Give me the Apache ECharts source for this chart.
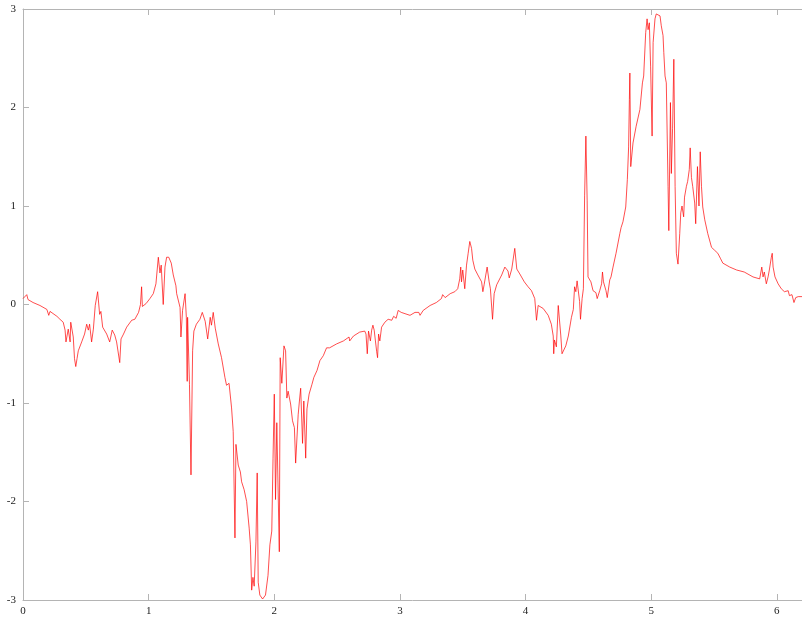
<!DOCTYPE html>
<html>
<head>
<meta charset="utf-8">
<script src="https://cdn.jsdelivr.net/npm/echarts@6/dist/echarts.min.js"></script>
<style>
html,body{margin:0;padding:0;background:#fff;}
#chart{width:802px;height:617px;}
</style>
</head>
<body>
<div id="chart"></div>
<script>
const xs = [0.00,0.03,0.04,0.08,0.135,0.19,0.205,0.215,0.27,0.294,0.32,0.335,0.342,0.36,0.375,0.38,0.40,0.41,0.42,0.43,0.44,0.467,0.49,0.507,0.52,0.53,0.546,0.56,0.575,0.594,0.61,0.62,0.634,0.666,0.69,0.71,0.73,0.745,0.76,0.77,0.78,0.80,0.825,0.865,0.89,0.905,0.92,0.935,0.944,0.95,0.96,0.98,1.01,1.037,1.058,1.077,1.09,1.10,1.116,1.13,1.143,1.16,1.17,1.18,1.196,1.217,1.223,1.25,1.257,1.27,1.29,1.30,1.307,1.31,1.325,1.337,1.35,1.36,1.38,1.408,1.427,1.45,1.47,1.49,1.50,1.514,1.53,1.554,1.58,1.607,1.62,1.633,1.64,1.66,1.673,1.687,1.695,1.713,1.73,1.74,1.76,1.78,1.80,1.81,1.82,1.83,1.84,1.854,1.864,1.872,1.885,1.907,1.93,1.95,1.965,1.98,1.99,2.00,2.01,2.02,2.04,2.047,2.06,2.077,2.09,2.10,2.11,2.13,2.145,2.16,2.17,2.19,2.20,2.21,2.225,2.235,2.25,2.26,2.277,2.30,2.315,2.34,2.363,2.39,2.416,2.43,2.44,2.496,2.55,2.595,2.60,2.63,2.68,2.72,2.73,2.74,2.75,2.765,2.775,2.785,2.795,2.805,2.815,2.822,2.83,2.84,2.854,2.88,2.906,2.92,2.935,2.95,2.97,2.986,3.00,3.01,3.025,3.08,3.12,3.13,3.15,3.16,3.185,3.24,3.29,3.33,3.34,3.36,3.40,3.437,3.46,3.476,3.484,3.49,3.50,3.516,3.53,3.543,3.556,3.57,3.58,3.596,3.62,3.65,3.66,3.67,3.694,3.71,3.72,3.737,3.75,3.77,3.81,3.835,3.86,3.87,3.89,3.914,3.93,3.954,3.99,4.02,4.047,4.073,4.087,4.10,4.14,4.18,4.205,4.22,4.224,4.23,4.245,4.26,4.28,4.29,4.30,4.32,4.34,4.365,4.38,4.39,4.40,4.41,4.43,4.437,4.45,4.46,4.47,4.48,4.49,4.497,4.52,4.537,4.56,4.57,4.59,4.605,4.612,4.62,4.64,4.65,4.67,4.68,4.696,4.72,4.75,4.76,4.775,4.79,4.797,4.81,4.82,4.826,4.83,4.837,4.855,4.88,4.91,4.93,4.94,4.956,4.967,4.975,4.985,4.995,5.007,5.015,5.03,5.04,5.055,5.07,5.08,5.094,5.10,5.11,5.12,5.134,5.14,5.153,5.16,5.17,5.18,5.19,5.20,5.213,5.227,5.235,5.245,5.258,5.265,5.28,5.29,5.303,5.31,5.32,5.33,5.346,5.354,5.368,5.38,5.39,5.40,5.41,5.426,5.45,5.48,5.505,5.53,5.55,5.57,5.625,5.68,5.74,5.75,5.81,5.863,5.88,5.89,5.90,5.916,5.93,5.94,5.956,5.963,5.97,5.985,6.01,6.035,6.06,6.09,6.10,6.12,6.136,6.15,6.17,6.2];
const ys = [0.06,0.10,0.05,0.02,-0.01,-0.05,-0.11,-0.07,-0.12,-0.15,-0.18,-0.26,-0.38,-0.25,-0.38,-0.18,-0.33,-0.55,-0.63,-0.55,-0.47,-0.38,-0.30,-0.20,-0.26,-0.20,-0.38,-0.25,-0.01,0.13,-0.10,-0.07,-0.23,-0.30,-0.38,-0.26,-0.31,-0.38,-0.37,-0.59,-0.35,-0.30,-0.23,-0.16,-0.15,-0.13,-0.08,0.00,0.18,-0.02,-0.01,0.01,0.06,0.11,0.21,0.48,0.32,0.40,0.00,0.38,0.48,0.48,0.48,0.42,0.30,0.19,0.11,-0.03,-0.33,-0.06,0.11,-0.13,-0.78,-0.13,-0.81,-1.73,-0.47,-0.27,-0.20,-0.15,-0.08,-0.17,-0.35,-0.13,-0.21,-0.08,-0.24,-0.40,-0.54,-0.74,-0.82,-0.84,-0.80,-1.05,-1.29,-2.37,-1.42,-1.63,-1.70,-1.80,-1.88,-2.00,-2.27,-2.44,-2.90,-2.77,-2.86,-2.41,-1.71,-2.82,-2.95,-2.99,-2.95,-2.75,-2.44,-2.30,-1.56,-0.91,-1.98,-1.20,-2.51,-0.54,-0.80,-0.42,-0.47,-0.95,-0.88,-1.01,-1.18,-1.25,-1.61,-1.12,-0.98,-0.85,-1.41,-0.98,-1.56,-1.06,-0.91,-0.81,-0.74,-0.67,-0.57,-0.52,-0.44,-0.43,-0.44,-0.40,-0.37,-0.33,-0.37,-0.32,-0.28,-0.27,-0.30,-0.50,-0.27,-0.37,-0.26,-0.21,-0.26,-0.37,-0.48,-0.54,-0.30,-0.37,-0.23,-0.18,-0.15,-0.13,-0.16,-0.12,-0.14,-0.06,-0.04,-0.08,-0.09,-0.11,-0.08,-0.06,-0.08,-0.11,-0.06,-0.01,0.02,0.06,0.10,0.07,0.11,0.13,0.16,0.26,0.38,0.23,0.35,0.16,0.40,0.52,0.64,0.57,0.45,0.36,0.30,0.23,0.13,0.20,0.38,0.23,0.16,-0.15,0.11,0.20,0.30,0.38,0.34,0.27,0.36,0.57,0.36,0.31,0.23,0.18,0.14,0.06,-0.16,-0.01,-0.04,-0.11,-0.20,-0.32,-0.50,-0.36,-0.43,-0.01,-0.31,-0.50,-0.51,-0.42,-0.32,-0.13,-0.05,0.18,0.13,0.24,0.03,-0.15,0.06,0.16,1.11,1.71,1.06,0.28,0.23,0.14,0.12,0.06,0.14,0.21,0.33,0.23,0.14,0.07,0.25,0.28,0.38,0.52,0.72,0.78,0.84,0.82,0.99,1.27,1.60,2.08,2.35,1.40,1.64,1.81,1.98,2.25,2.32,2.76,2.90,2.79,2.86,2.42,1.71,2.66,2.90,2.95,2.97,2.93,2.83,2.73,2.56,2.32,2.25,1.20,0.75,2.05,1.33,1.79,2.49,1.20,0.52,0.41,0.72,0.93,1.00,0.89,1.09,1.20,1.25,1.37,1.59,1.29,1.20,1.03,0.82,1.40,1.00,1.55,1.20,0.99,0.86,0.72,0.58,0.55,0.52,0.47,0.42,0.38,0.35,0.33,0.32,0.28,0.26,0.38,0.28,0.33,0.21,0.28,0.35,0.48,0.52,0.38,0.28,0.21,0.16,0.13,0.14,0.09,0.10,0.02,0.07,0.08,0.08];
const xTicks = [0,1,2,3,4,5,6];
const yTicks = [-3,-2,-1,0,1,2,3];

const points = xs.map((x, i) => [x, ys[i]]);
const axisGrey = '#b4b4b4';
const labelStyle = { color: '#222', fontFamily: 'Liberation Serif', fontSize: 11 };

const chart = echarts.init(document.getElementById('chart'), null, { renderer: 'canvas' });
chart.setOption({
  animation: false,
  backgroundColor: '#fff',
  grid: { left: 23, right: 0, top: 9, bottom: 17, containLabel: false },
  xAxis: [
    {
      type: 'value', min: 0, max: 6.2, interval: 1, position: 'bottom',
      axisLine: { show: true, onZero: false, lineStyle: { color: axisGrey, width: 1 } },
      axisTick: { show: true, inside: true, length: 6, lineStyle: { color: axisGrey } },
      splitLine: { show: false },
      axisLabel: Object.assign({ margin: 6, showMaxLabel: false,
        formatter: v => (xTicks.indexOf(v) >= 0 ? String(v) : '') }, labelStyle)
    },
    {
      type: 'value', min: 0, max: 6.2, interval: 1, position: 'top',
      axisLine: { show: true, onZero: false, lineStyle: { color: axisGrey, width: 1 } },
      axisTick: { show: true, inside: true, length: 6, lineStyle: { color: axisGrey } },
      splitLine: { show: false },
      axisLabel: { show: false }
    }
  ],
  yAxis: {
    type: 'value', min: -3, max: 3, interval: 1,
    axisLine: { show: true, onZero: false, lineStyle: { color: axisGrey, width: 1 } },
    axisTick: { show: true, inside: true, length: 6, lineStyle: { color: axisGrey } },
    splitLine: { show: false },
    axisLabel: Object.assign({ margin: 7,
      formatter: v => (yTicks.indexOf(v) >= 0 ? String(v) : '') }, labelStyle)
  },
  series: [{
    type: 'line',
    xAxisIndex: 0,
    data: points,
    showSymbol: false,
    symbol: 'none',
    lineStyle: { color: '#ff0000', width: 0.7 },
    silent: true
  }]
});
</script>
</body>
</html>
